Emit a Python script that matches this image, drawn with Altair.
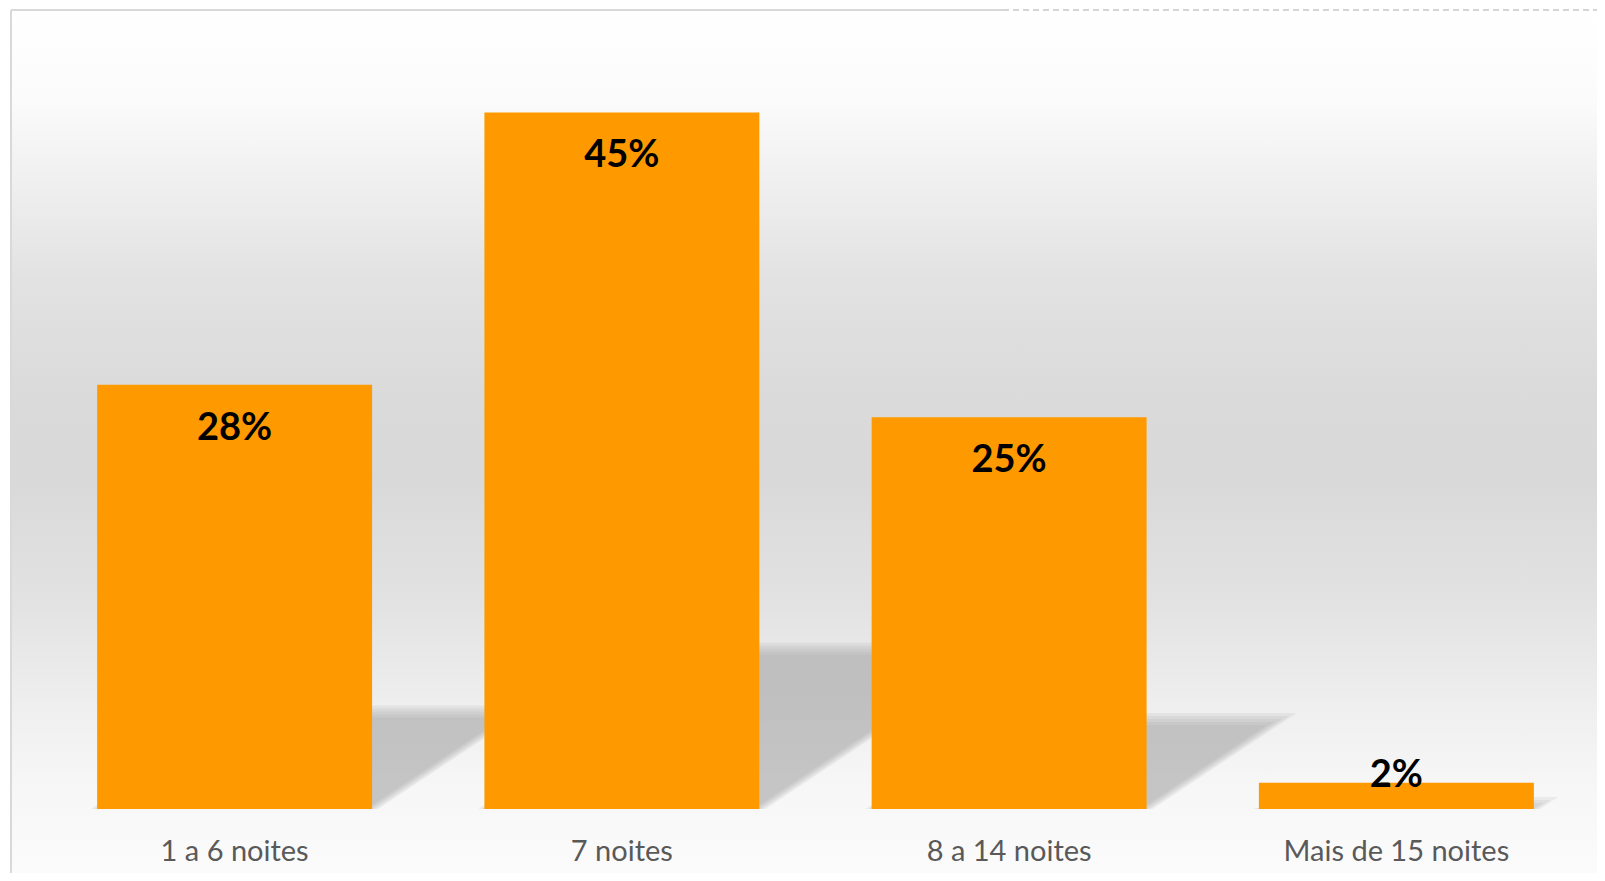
import altair as alt
import pandas as pd

# ---- data ----
categories = ["1 a 6 noites", "7 noites", "8 a 14 noites", "Mais de 15 noites"]
values = [27.4, 45.0, 25.3, 1.7]
labels = ["28%", "45%", "25%", "2%"]

# ---- layout / style parameters ----
W, H = 1549, 774
PAD_IN = 0.29
HALF = (1 - PAD_IN) / 2      # half bar width in band-index units
SH = 0.23                    # shadow height relative to bar height
SK = 0.01379                 # shadow skew (index units per value unit)
BAR = "#FF9900"
PX_X = 387.25                # pixels per band index unit
PX_Y = H / 50                # pixels per value unit
BLUR = [-6, -3, 0, 3, 6]     # soft-edge copies (pixels)

df = pd.DataFrame({"cat": categories, "v": values, "lab": labels})

rows = []
for i, (c, v) in enumerate(zip(categories, values)):
    for k, s in enumerate(BLUR):
        h = max(SH * v + s / PX_Y, 0.05)
        d = SK * v * h / (SH * v)
        sx = s / PX_X
        a, b = i - HALF + sx, i + HALF + sx
        for x, lo, hi in [(a, 0, 0), (a + d, 0, h), (b, 0, h), (b + d, h, h)]:
            rows.append({"cat": c, "k": k, "x": x, "lo": lo, "hi": hi})
shadow = pd.DataFrame(rows)

one = alt.Data(values=[{}])

yscale = alt.Scale(domain=[0, 50], nice=False, zero=True)
xband = alt.X("cat:N", sort=categories, axis=None,
              scale=alt.Scale(paddingInner=PAD_IN, paddingOuter=PAD_IN / 2))

def off(page_y):
    return (page_y - 10) / 863

grad = {
    "gradient": "linear", "x1": 0, "y1": 0, "x2": 0, "y2": 1,
    "stops": [
        {"offset": off(10), "color": "#ffffff"},
        {"offset": off(100), "color": "#fbfbfb"},
        {"offset": off(170), "color": "#f1f1f1"},
        {"offset": off(280), "color": "#e2e2e2"},
        {"offset": off(400), "color": "#dadada"},
        {"offset": off(480), "color": "#d9d9d9"},
        {"offset": off(600), "color": "#e2e2e2"},
        {"offset": off(700), "color": "#eeeeee"},
        {"offset": off(790), "color": "#f7f7f7"},
        {"offset": off(873), "color": "#fbfbfb"},
    ],
}

bg = alt.Chart(one).mark_rect(color=grad).encode(
    x=alt.value(-30), x2=alt.value(W + 7), y=alt.value(-25), y2=alt.value(H + 64))

frame_left = alt.Chart(one).mark_rule(color="#d9d9d9", strokeWidth=2).encode(
    x=alt.value(-30), y=alt.value(-25), y2=alt.value(H + 64))
frame_top = alt.Chart(one).mark_rule(color="#d9d9d9", strokeWidth=2).encode(
    x=alt.value(-30), x2=alt.value(962), y=alt.value(-25))
frame_top_dash = alt.Chart(one).mark_rule(color="#c8c8c8", strokeWidth=1.5, strokeDash=[6, 4]).encode(
    x=alt.value(962), x2=alt.value(W + 7), y=alt.value(-25))

shadows = alt.Chart(shadow).mark_area(color="#969696", opacity=0.137, interpolate="linear").encode(
    x=alt.X("x:Q", axis=None, scale=alt.Scale(domain=[-0.5, 3.5], nice=False, zero=False)),
    y=alt.Y("lo:Q", axis=None, scale=yscale),
    y2="hi:Q",
    detail=["cat:N", "k:N"],
)

bars = alt.Chart(df).mark_bar(color=BAR).encode(
    x=xband,
    y=alt.Y("v:Q", axis=None, scale=yscale),
)

value_labels = alt.Chart(df).transform_calculate(
    ly="datum.v >= 5 ? datum.v - 3.555 : datum.v - 0.29"
).mark_text(font="Lato", fontWeight="bold", fontSize=38, color="#000000",
            baseline="alphabetic", align="center").encode(
    x=xband,
    y=alt.Y("ly:Q", axis=None, scale=yscale),
    text="lab:N",
)

cat_labels = alt.Chart(df).mark_text(font="Lato", fontSize=29, color="#595959",
                                     baseline="alphabetic", align="center", dy=52).encode(
    x=xband,
    y=alt.datum(0, scale=yscale),
    text="cat:N",
)

chart = alt.layer(
    bg, frame_left, frame_top, frame_top_dash, shadows, bars, value_labels, cat_labels
).resolve_scale(x="independent").properties(
    width=W, height=H,
    autosize="none",
    padding={"left": 33, "top": 27, "right": 7, "bottom": 64},
    background="#ffffff",
).configure_view(stroke=None)

chart.save("out.html", embed_options={"renderer": "svg", "actions": False})
